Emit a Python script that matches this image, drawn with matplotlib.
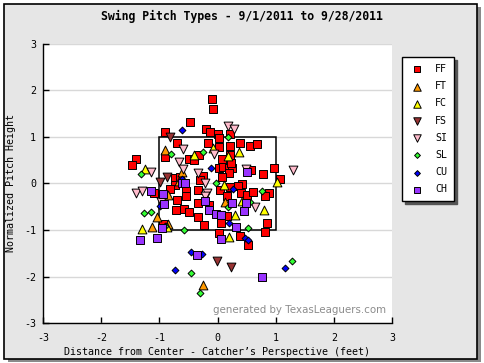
import matplotlib

matplotlib.use("Agg")
import matplotlib.pyplot as plt
from matplotlib.patches import Rectangle

# Pitch locations (feet from center, normalized height)
ff_x = [-0.47, -0.90, -0.70, -0.90, -0.49, -0.40, -0.32, -1.40, -1.47, -0.73,
        -0.64, -0.09, -0.08, -0.20, -0.13, 0.01, 0.21, 0.03, -0.16, 0.21,
        0.39, 0.56, 0.68, 0.03, 0.08, 0.21, 0.03, 0.10, 0.20, 0.25,
        0.23, 0.58, 0.97, 0.78, 0.20, 0.08, -0.25, -0.30, 0.42, 1.07,
        -0.73, -0.54, -0.82, -1.09, -0.54, -0.33, -0.70, -0.33, -0.71, -0.57,
        -0.49, -0.33, -0.94, 0.21, 0.35, 0.04, 0.40, 0.51, 0.61, 0.88,
        0.82, 0.16, -0.15, 0.16, -0.23, 0.06, 0.85, 0.03, 0.82, 0.39, 0.52]
ff_y = [1.32, 1.10, 0.87, 0.57, 0.52, 0.50, 0.61, 0.52, 0.39, 0.12,
        0.14, 1.81, 1.60, 1.17, 1.10, 1.06, 1.06, 0.97, 0.87, 0.80,
        0.87, 0.80, 0.85, 0.78, 0.52, 0.61, 0.33, 0.35, 0.33, 0.33,
        0.44, 0.29, 0.33, 0.20, 0.22, 0.14, 0.16, 0.07, -0.01, 0.09,
        -0.03, -0.16, -0.12, -0.21, -0.27, -0.14, -0.36, -0.42, -0.57, -0.55,
        -0.61, -0.72, -0.87, -0.08, -0.06, -0.14, -0.21, -0.25, -0.18, -0.21,
        -0.27, -0.27, -0.46, -0.70, -0.89, -0.85, -0.85, -1.06, -1.04, -1.13, -1.32]

ft_x = [-0.90, -0.61, -0.67, -0.85, -1.04, -1.12, -0.85, 0.13, -0.25]
ft_y = [0.72, 0.24, 0.05, -0.25, -0.72, -0.94, -0.87, -0.40, -2.18]

fc_x = [-0.40, -1.24, -0.08, 0.37, 0.18, 1.02, 0.11, 0.42, 0.80, 0.30, -1.30, -0.87, 0.20]
fc_y = [0.61, 0.31, 0.76, 0.67, 0.59, 0.03, -0.03, -0.38, -0.57, -0.68, -0.98, -0.94, -1.15]

fs_x = [-0.82, -0.87, -0.99, -0.01, 0.23]
fs_y = [1.00, 0.14, 0.03, -1.67, -1.79]

si_x = [-0.59, -0.66, -1.14, -0.59, -0.33, 0.18, 0.28, -0.06, 0.49, 1.30,
        -0.21, -1.40, -1.30, -0.97, -0.18, -0.21, 0.64]
si_y = [0.74, 0.46, 0.25, 0.31, 0.22, 1.23, 1.17, 0.63, 0.31, 0.29,
        0.01, -0.21, -0.16, -0.40, -0.21, -0.27, -0.51]

sl_x = [-0.80, -1.31, 0.18, -0.25, -0.03, -1.26, -1.14, -0.90, -0.57, -0.45,
        0.76, 0.56, 0.18, 0.52, 1.28, -0.30]
sl_y = [0.63, 0.20, 1.00, 0.67, 0.01, -0.64, -0.61, -0.91, -1.00, -1.92,
        -0.16, -0.40, -0.51, -0.96, -1.67, -2.35]

cu_x = [-0.61, -0.11, -0.61, -0.99, 0.27, 0.20, 0.47, 0.52, -0.45, -0.27, -0.73, 1.16]
cu_y = [1.15, 0.33, 0.09, -0.48, -0.12, -0.85, -1.17, -1.21, -1.47, -1.51, -1.86, -1.82]

ch_x = [-0.61, -0.56, 0.51, -1.14, -0.94, -0.92, -0.95, -1.33, -1.04, -0.35,
        -0.21, -0.15, -0.03, 0.06, 0.25, 0.49, 0.45, 0.32, 0.06, 0.76]
ch_y = [0.01, 0.01, 0.24, -0.16, -0.23, -0.44, -0.96, -1.21, -1.17, -1.54,
        -0.38, -0.57, -0.66, -0.68, -0.42, -0.42, -0.59, -0.94, -1.19, -2.01]

ticks = [-3, -2, -1, 0, 1, 2, 3]

# (label, x, y, marker, size, colour)
series = [
    ("FF", ff_x, ff_y, "s", 27, "#ff0000"),
    ("FT", ft_x, ft_y, "^", 40, "#ff9900"),
    ("FC", fc_x, fc_y, "^", 40, "#ffff00"),
    ("FS", fs_x, fs_y, "v", 40, "#993333"),
    ("SI", si_x, si_y, "v", 40, "#ffbbcc"),
    ("SL", sl_x, sl_y, "D", 12, "#33ff33"),
    ("CU", cu_x, cu_y, "D", 12, "#0000ff"),
    ("CH", ch_x, ch_y, "s", 27, "#9933ff"),
]

plt.rcParams["axes.unicode_minus"] = False
mono = "DejaVu Sans Mono"

fig = plt.figure(figsize=(4.84, 3.63), dpi=100, facecolor="white")

# framed grey panel with a drop shadow
W, H = 484, 363
fig.patches.append(Rectangle((7.5 / W, 1 - 362 / H), 473 / W, 355 / H,
                             transform=fig.transFigure, facecolor="#8a8a8a",
                             edgecolor="none", zorder=-2))
fig.patches.append(Rectangle((3.5 / W, 1 - 358.5 / H), 473 / W, 355 / H,
                             transform=fig.transFigure, facecolor="#e6e6e6",
                             edgecolor="black", linewidth=1.2, zorder=-1))

ax = fig.add_axes([43 / W, 1 - 323.3 / H, 349 / W, 279.8 / H])
ax.set_facecolor("white")
ax.set_xlim(-3, 3)
ax.set_ylim(-3, 3)
ax.set_xticks(ticks)
ax.set_yticks(ticks)
ax.yaxis.grid(True, color="#d8d8d8", linewidth=1.0)
ax.set_axisbelow(True)
for side in ("top", "right"):
    ax.spines[side].set_visible(False)
for side in ("left", "bottom"):
    ax.spines[side].set_linewidth(1.0)
ax.tick_params(direction="in", length=4, width=1.0, labelsize=7.2, pad=5)
for lab in ax.get_xticklabels() + ax.get_yticklabels():
    lab.set_family(mono)
ax.tick_params(axis="x", pad=7)

# strike zone
ax.add_patch(Rectangle((-1, -1), 2, 2, fill=False, edgecolor="black",
                       linewidth=1.1, zorder=1))

handles = []
for name, xs, ys, mk, sz, col in series:
    h = ax.scatter(xs, ys, marker=mk, s=sz, facecolor=col, edgecolor="black",
                   linewidths=0.7, zorder=3, label=name)
    handles.append(h)

ax.text(2.9, -2.72, "generated by TexasLeaguers.com", ha="right", va="center",
        color="#8c8c8c", fontsize=7.4)

ax.set_xlabel("Distance from Center - Catcher\u2019s Perspective (feet)",
              family=mono, fontsize=7.2, labelpad=3)
ax.set_ylabel("Normalized Pitch Height", family=mono, fontsize=7.2, labelpad=6)

fig.text(0.5, 1 - 16 / H, "Swing Pitch Types - 9/1/2011 to 9/28/2011",
         ha="center", va="center", family=mono, fontweight="bold", fontsize=8.3)

leg = fig.legend(handles=handles, loc="upper left",
                 bbox_to_anchor=(402 / W, 1 - 57 / H),
                 bbox_transform=fig.transFigure, borderaxespad=0,
                 frameon=True, fancybox=False, shadow={"color": "#555555", "alpha": 1},
                 prop={"family": mono, "size": 7.2}, labelspacing=0.72,
                 handlelength=1.5, handletextpad=1.1, borderpad=0.7,
                 scatterpoints=1, markerscale=0.85)
leg.get_frame().set_edgecolor("black")
leg.get_frame().set_linewidth(1.0)
leg.get_frame().set_facecolor("white")

fig.savefig("out.png", dpi=100, facecolor=fig.get_facecolor())
